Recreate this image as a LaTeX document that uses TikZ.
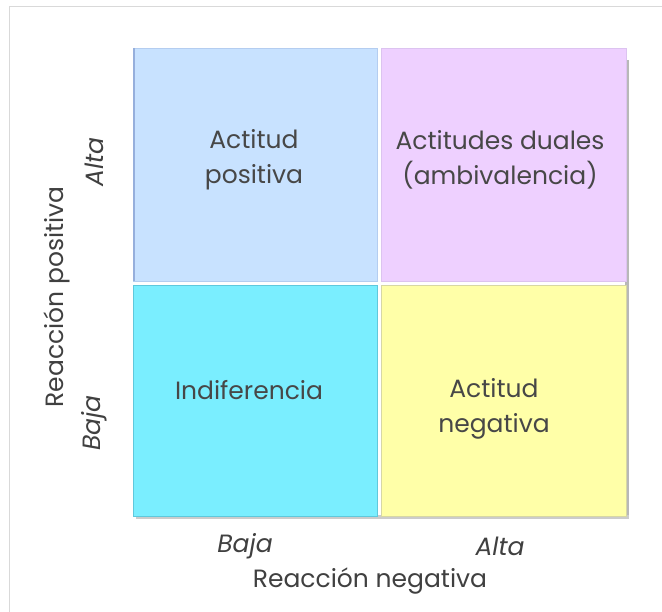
\documentclass[tikz,border=0pt]{standalone}
\usepackage{fontspec}
\setmainfont{Poppins}
\definecolor{qtl}{RGB}{200,226,255}
\definecolor{qtld}{RGB}{180,205,240}
\definecolor{qtle}{RGB}{150,175,220}
\definecolor{qtr}{RGB}{238,208,255}
\definecolor{qtrd}{RGB}{220,195,240}
\definecolor{qbl}{RGB}{122,238,255}
\definecolor{qbld}{RGB}{95,200,220}
\definecolor{qbr}{RGB}{255,255,168}
\definecolor{qbrd}{RGB}{215,215,165}
\begin{document}
\begin{tikzpicture}[x=1pt,y=-1pt,
  txt/.style={text=black!72, font=\fontsize{25}{35}\selectfont, align=center, inner sep=0pt},
  ax/.style={text=black!75, font=\fontsize{25}{30}\selectfont, inner sep=0pt},
  axi/.style={ax, font=\fontsize{25}{30}\selectfont\itshape},
  quad/.style={line width=0.8pt}]
\useasboundingbox (0,0) rectangle (662,612);
\fill[white] (0,0) rectangle (662,612);
% frame
\draw[black!15, line width=1.5pt] (9.5,612) -- (9.5,6.5) -- (662,6.5);
% shadows
\fill[black!28] (625,60) rectangle (629,519);
\fill[black!20] (136,515) rectangle (629,519);
% quadrants
\filldraw[quad, fill=qtl, draw=qtld] (133,48) rectangle (377,281);
\filldraw[quad, fill=qtr, draw=qtrd] (381,48) rectangle (626,281);
\filldraw[quad, fill=qbl, draw=qbld] (133,285) rectangle (377,516);
\filldraw[quad, fill=qbr, draw=qbrd] (381,285) rectangle (626,516);
\draw[qtle, line width=1.5pt] (134,48) -- (134,281);
% quadrant texts
\node[txt] (tl) at (254,160) {Actitud\\positiva};
\node[txt] (tr) at (500,160) {Actitudes duales\\(ambivalencia)};
\node[txt] (bl) at (249,390) {Indiferencia};
\node[txt] (br) at (494,409) {Actitud\\negativa};
% axes
\node[axi] (xb) at (245,546) {Baja};
\node[axi] (xa) at (500,546) {Alta};
\node[ax] (xl) at (370,581) {Reacción negativa};
\node[axi, rotate=90] (ya) at (94,162) {Alta};
\node[axi, rotate=90] (yb) at (94,423) {Baja};
\node[ax, rotate=90] (yl) at (57,297) {Reacción positiva};
\end{tikzpicture}
\end{document}
